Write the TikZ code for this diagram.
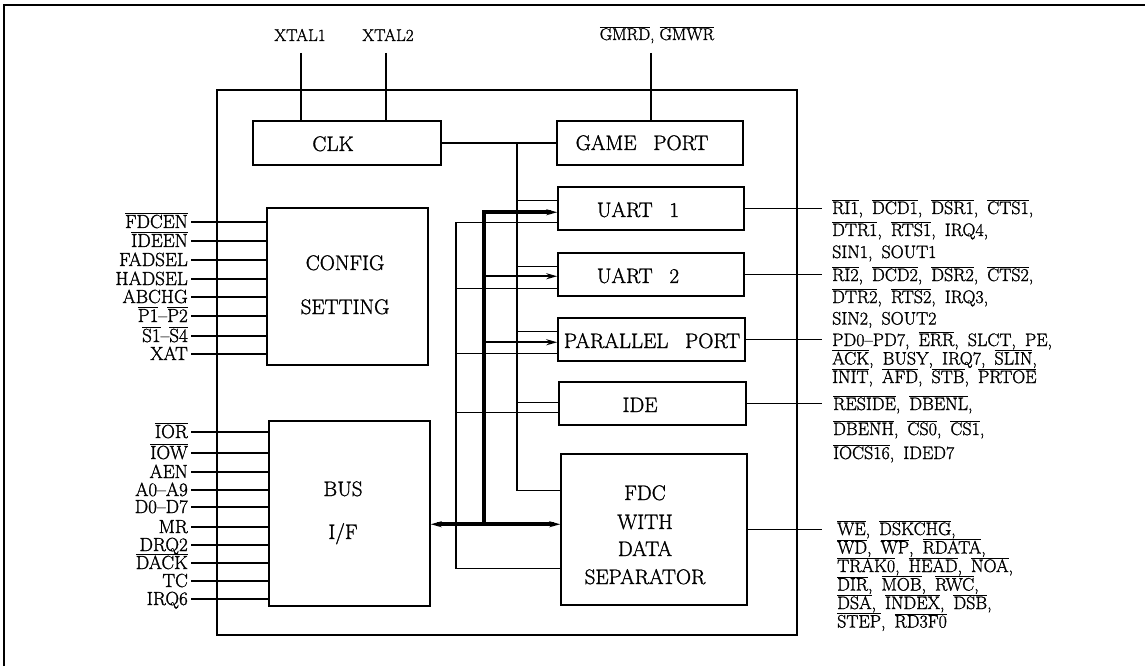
\documentclass[tikz,border=0pt]{standalone}
\usepackage{fontspec}
\setmainfont{Latin Modern Roman}[FakeBold=1.3]
\usetikzlibrary{arrows.meta,calc}
\newcommand\ol[1]{\ensuremath{\overline{\mbox{#1}}}}
\newcommand\myboxfont{\fontsize{21}{24}\selectfont\spaceskip=0.4em\relax}
\newcommand\myrightfont{\fontsize{18}{20}\selectfont\spaceskip=0.5em plus 0.1em\relax}
\newcommand\myleftfont{\fontsize{19}{21}\selectfont}
\newcommand\mytopfont{\fontsize{17}{19}\selectfont}
\begin{document}
\begin{tikzpicture}[x=1pt,y=-1pt,
  box/.style={draw, line width=1.5pt, inner sep=0pt},
  wire/.style={line width=1.2pt},
  busline/.style={line width=3.8pt},
  tip/.style={-{Stealth[length=11pt,width=6pt]}},
  busarrow/.style={line width=2.4pt, -{Stealth[length=11pt,width=6pt]}},
  boxtxt/.style={font=\myboxfont, inner sep=0pt, text height=14pt, text depth=0pt},
  lbl/.style={font=\mytopfont, inner sep=0pt, text height=12pt, text depth=0pt},
  ll/.style={font=\myleftfont, inner sep=0pt, text height=12pt, text depth=0pt, anchor=east},
  rl/.style={font=\myrightfont, inner sep=0pt, anchor=west, text height=12pt, text depth=0pt}]

\useasboundingbox (0,0) rectangle (1145,668);
% outer frame
\draw[wire] (4,666) -- (4,5) -- (1145,5);

% main chip box
\node[box, minimum width=580pt, minimum height=545pt] (chip) at (507,362.5) {};

% blocks
\node[box, minimum width=188pt, minimum height=44pt] (clk) at (347,143) {};
\node[boxtxt] (clkT) at (333,144) {CLK};
\node[box, minimum width=186pt, minimum height=44pt] (game) at (650,143) {};
\node[boxtxt] (gameT) at (642,143) {GAME\ \ PORT};
\node[box, minimum width=186pt, minimum height=43pt] (uart1) at (651,208.5) {};
\node[boxtxt] (uart1T) at (638,210) {UART\ \ 1};
\node[box, minimum width=186pt, minimum height=43pt] (uart2) at (651,274.5) {};
\node[boxtxt] (uart2T) at (638,276) {UART\ \ 2};
\node[box, minimum width=187pt, minimum height=43pt] (par) at (651.5,339.5) {};
\node[boxtxt] (parT) at (652,341) {PARALLEL\ \ PORT};
\node[box, minimum width=187pt, minimum height=43pt] (ide) at (652.5,403.5) {};
\node[boxtxt] (ideT) at (640,405) {IDE};
\node[box, minimum width=186pt, minimum height=151pt] (fdc) at (654,529.5) {};
\node[boxtxt] (fdcT1) at (645,493) {FDC};
\node[boxtxt] (fdcT2) at (645,522) {WITH};
\node[boxtxt] (fdcT3) at (645,549) {DATA};
\node[boxtxt] (fdcT4) at (645,577) {SEPARATOR};
\node[box, minimum width=161pt, minimum height=157pt] (config) at (347.5,286.5) {};
\node[boxtxt] (configT1) at (345,263) {CONFIG};
\node[boxtxt] (configT2) at (345,307) {SETTING};
\node[box, minimum width=161pt, minimum height=185pt] (bus) at (349.5,513.5) {};
\node[boxtxt] (busT1) at (343,489) {BUS};
\node[boxtxt] (busT2) at (343,532) {I/F};

% top signals
\node[lbl] (xt1) at (300,35) {XTAL1};
\node[lbl] (xt2) at (388,35) {XTAL2};
\node[lbl] (gm) at (657,34) {\ol{GMRD}, \ol{GMWR}};
\coordinate (xt1b) at (301,53);
\coordinate (xt2b) at (386,53);
\coordinate (gmb) at (651,53);
\draw[wire] (xt1b) -- (xt1b |- clk.north);
\draw[wire] (xt2b) -- (xt2b |- clk.north);
\draw[wire] (gmb) -- (gmb |- game.north);

% internal coordinates
\coordinate (v1) at (517,143);
\coordinate (bx) at (484,0);
\coordinate (cx) at (456,0);
\coordinate (u1a) at ($(uart1.north west)+(0,14)$);
\coordinate (u1b) at ($(uart1.north west)+(0,26)$);
\coordinate (u1c) at ($(uart1.north west)+(0,36)$);
\coordinate (u2a) at ($(uart2.north west)+(0,14)$);
\coordinate (u2b) at ($(uart2.north west)+(0,24)$);
\coordinate (u2c) at ($(uart2.north west)+(0,36)$);
\coordinate (pa) at ($(par.north west)+(0,14)$);
\coordinate (pb) at ($(par.north west)+(0,25)$);
\coordinate (pc) at ($(par.north west)+(0,36)$);
\coordinate (ia) at ($(ide.north west)+(0,21)$);
\coordinate (ic) at ($(ide.north west)+(0,31)$);
\coordinate (fa) at ($(fdc.north west)+(0,37)$);
\coordinate (fb) at ($(fdc.north west)+(0,71)$);
\coordinate (fc) at ($(fdc.north west)+(0,115)$);

% clock distribution
\draw[wire] (clk.east) -- (game.west);
\draw[wire] (v1) |- (fa);
\draw[wire] (u1a -| v1) -- (u1a);
\draw[wire] (u2a -| v1) -- (u2a);
\draw[wire] (pa -| v1) -- (pa);
\draw[wire] (ia -| v1) -- (ia);

% second thin line
\draw[wire] (u1c) -| (cx |- fc) -- (fc);
\draw[wire] (u2c -| cx) -- (u2c);
\draw[wire] (pc -| cx) -- (pc);
\draw[wire] (ic -| cx) -- (ic);

% data bus
\draw[busline, tip] (bx |- fb) -- (bx |- u1b) -- (u1b);
\draw[busarrow] (bx |- u2b) -- (u2b);
\draw[busarrow] (bx |- pb) -- (pb);
\draw[busline, {Stealth[length=11pt,width=6pt]}-{Stealth[length=11pt,width=6pt]}] (bus.east |- fb) -- (fb);

% left signals: config
\node[ll] (c1) at (188,222) {\ol{FDCEN}};
\node[ll] (c2) at (188,241) {\ol{IDEEN}};
\node[ll] (c3) at (188,260) {FADSEL};
\node[ll] (c4) at (188,279) {HADSEL};
\node[ll] (c5) at (188,297) {ABCHG};
\node[ll] (c6) at (188,316) {\ol{P1}--\ol{P2}};
\node[ll] (c7) at (188,336) {\ol{S1}--\ol{S4}};
\node[ll] (c8) at (188,354) {XAT};
\foreach \n in {c1,c2,c3,c4,c5,c6,c7,c8}
  \draw[wire] ([xshift=3pt]\n.east) -- (\n.east -| config.west);

% left signals: bus
\node[ll] (b1) at (188,432) {\ol{IOR}};
\node[ll] (b2) at (188,453) {\ol{IOW}};
\node[ll] (b3) at (188,472) {AEN};
\node[ll] (b4) at (188,490) {A0--A9};
\node[ll] (b5) at (188,507) {D0--D7};
\node[ll] (b6) at (188,527) {MR};
\node[ll] (b7) at (188,545) {DRQ2};
\node[ll] (b8) at (188,563) {\ol{DACK}};
\node[ll] (b9) at (188,581) {TC};
\node[ll] (b10) at (188,599) {IRQ6};
\foreach \n in {b1,b2,b3,b4,b5,b6,b7,b8,b9,b10}
  \draw[wire] ([xshift=3pt]\n.east) -- (\n.east -| bus.west);

% right signals
\coordinate (re) at (822,0);
\node[rl] (r1a) at (832,208) {\ol{RI1}, \ol{DCD1}, \ol{DSR1}, \ol{CTS1},};
\node[rl] (r1b) at (832,230) {\ol{DTR1}, \ol{RTS1}, IRQ4,};
\node[rl] (r1c) at (832,252) {SIN1, SOUT1};
\node[rl] (r2a) at (832,275) {\ol{RI2}, \ol{DCD2}, \ol{DSR2}, \ol{CTS2},};
\node[rl] (r2b) at (832,297) {\ol{DTR2}, \ol{RTS2}, IRQ3,};
\node[rl] (r2c) at (832,318.5) {SIN2, SOUT2};
\node[rl] (r3a) at (832,340) {PD0--PD7, \ol{ERR}, SLCT, PE,};
\node[rl] (r3b) at (832,358.5) {\ol{ACK}, BUSY, IRQ7, \ol{SLIN},};
\node[rl] (r3c) at (832,377) {\ol{INIT}, \ol{AFD}, \ol{STB}, \ol{PRTOE}};
\node[rl] (r4a) at (833,404) {\ol{RESIDE}, \ol{DBENL},};
\node[rl] (r4b) at (833,429) {\ol{DBENH}, \ol{CS0}, \ol{CS1},};
\node[rl] (r4c) at (833,453) {\ol{IOCS16}, IDED7};
\node[rl] (r5a) at (837,529) {\ol{WE}, \ol{DSKCHG},};
\node[rl] (r5b) at (837,547.5) {\ol{WD}, \ol{WP}, \ol{RDATA},};
\node[rl] (r5c) at (837,566) {\ol{TRAK0}, \ol{HEAD}, \ol{NOA},};
\node[rl] (r5d) at (837,584.5) {\ol{DIR}, \ol{MOB}, \ol{RWC},};
\node[rl] (r5e) at (837,603) {\ol{DSA}, \ol{INDEX}, \ol{DSB},};
\node[rl] (r5f) at (837,621.5) {\ol{STEP}, \ol{RD3F0}};
\draw[wire] (uart1.east) -- (uart1.east -| re);
\draw[wire] (uart2.east) -- (uart2.east -| re);
\draw[wire] (par.east) -- (par.east -| re);
\draw[wire] (ide.east) -- (ide.east -| re);
\draw[wire] (fdc.east) -- (fdc.east -| re);
\end{tikzpicture}
\end{document}
